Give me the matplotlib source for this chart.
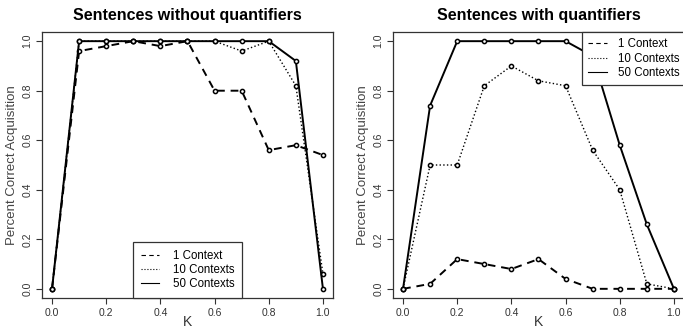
import matplotlib
matplotlib.use('Agg')
from matplotlib import pyplot as plt

plt.rcParams['font.family'] = ['Liberation Sans', 'DejaVu Sans']

k = [0.0, 0.1, 0.2, 0.3, 0.4, 0.5, 0.6, 0.7, 0.8, 0.9, 1.0]

# sentences without quantifiers
noq_1 = [0.0, 0.96, 0.98, 1.0, 0.98, 1.0, 0.80, 0.80, 0.56, 0.58, 0.54]
noq_10 = [0.0, 1.0, 1.0, 1.0, 1.0, 1.0, 1.0, 0.96, 1.0, 0.82, 0.06]
noq_50 = [0.0, 1.0, 1.0, 1.0, 1.0, 1.0, 1.0, 1.0, 1.0, 0.92, 0.0]

# sentences with quantifiers
q_1 = [0.0, 0.02, 0.12, 0.10, 0.08, 0.12, 0.04, 0.0, 0.0, 0.0, 0.0]
q_10 = [0.0, 0.50, 0.50, 0.82, 0.90, 0.84, 0.82, 0.56, 0.40, 0.02, 0.0]
q_50 = [0.0, 0.74, 1.0, 1.0, 1.0, 1.0, 1.0, 0.94, 0.58, 0.26, 0.0]

titles = ['Sentences without quantifiers', 'Sentences with quantifiers']
labels = ['1 Context', '10 Contexts', '50 Contexts']
ticks = [0.0, 0.2, 0.4, 0.6, 0.8, 1.0]

fig = plt.figure(figsize=(6.83, 3.30), dpi=100)
ax1 = fig.add_axes([0.0615, 0.097, 0.426, 0.806])
ax2 = fig.add_axes([0.5754, 0.097, 0.426, 0.806])

panels = [(ax1, titles[0], [noq_1, noq_10, noq_50]),
          (ax2, titles[1], [q_1, q_10, q_50])]
styles = [((0, (4, 3)), 1.4), (':', 1.0), ('-', 1.4)]

for ax, title, series in panels:
  handles = []
  for vals, lab, (ls, lw) in zip(series, labels, styles):
    ax.plot(k, vals, color='black', linestyle=ls, lw=lw)
    ax.plot(k, vals, linestyle='none', marker='o', ms=3.0, mfc='white',
            mec='black', mew=1.1)
    h, = ax.plot([], [], color='black', linestyle=ls, lw=0.8)
    handles.append(h)
  ax.set_xlim(-0.037, 1.037)
  ax.set_ylim(-0.037, 1.037)
  ax.set_xticks(ticks)
  ax.set_yticks(ticks)
  ax.set_xticklabels(['%.1f' % t for t in ticks])
  ax.set_yticklabels(['%.1f' % t for t in ticks], rotation=90, va='center')
  ax.tick_params(axis='both', labelsize=7.5, length=4, width=0.8,
                 colors='#333333', pad=3)
  for sp in ax.spines.values():
    sp.set_color('#333333')
    sp.set_linewidth(0.9)
  ax.set_xlabel('K', fontsize=10, color='#333333', labelpad=-2)
  ax.set_ylabel('Percent Correct Acquisition', fontsize=9.5,
                color='#444444', labelpad=3)
  ax.set_title(title, fontsize=11.5, fontweight='bold', pad=9)
  if ax is ax1:
    leg = ax.legend(handles, labels, loc='lower center',
                    bbox_to_anchor=(0.5, 0.0), borderaxespad=0,
                    fontsize=8.3, handlelength=1.6, handletextpad=1.2,
                    labelspacing=0.2, borderpad=0.65, fancybox=False)
  else:
    leg = ax.legend(handles, labels, loc='upper left',
                    bbox_to_anchor=(0.649, 1.0), borderaxespad=0,
                    fontsize=8.3, handlelength=1.6, handletextpad=1.0,
                    labelspacing=0.2, borderpad=0.55, fancybox=False)
  leg.get_frame().set_edgecolor('#333333')
  leg.get_frame().set_linewidth(0.9)
  leg.get_frame().set_alpha(1)

fig.savefig('out.png', dpi=100)
